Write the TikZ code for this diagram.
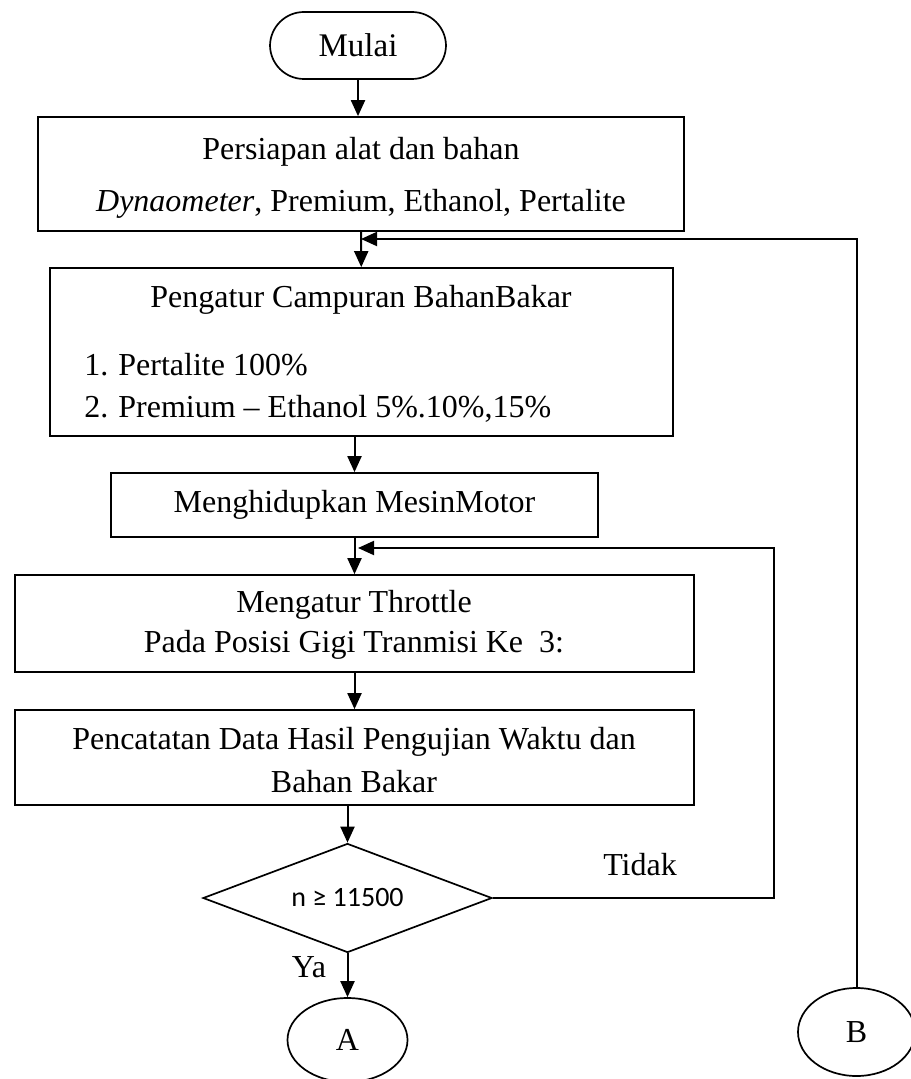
\documentclass[tikz,border=0pt]{standalone}
\usepackage{fontspec}
\setmainfont{Liberation Serif}
\newfontfamily\calib{Carlito}
\usetikzlibrary{arrows.meta,shapes.geometric}
\begin{document}
\begin{tikzpicture}[x=0.5pt,y=-0.5pt,
  every node/.style={font=\fontsize{16}{20}\selectfont},
  txt/.style={inner sep=0pt,text height=11pt,text depth=3.5pt},
  box/.style={draw,line width=0.85pt,inner sep=0pt},
  arr/.style={line width=1pt,-{Triangle[length=8pt,width=7pt]}},
  ln/.style={line width=1pt}]
\useasboundingbox (0,0) rectangle (910,1079);
% nodes
\node[box,rounded corners=17pt,minimum width=88pt,minimum height=33.5pt,font=\fontsize{16.5}{20}\selectfont] (mulai) at (358,45.5) {Mulai};
\node[box,minimum width=323pt,minimum height=57pt] (b1) at (361,174) {};
\node[txt] (b1a) at (361,152) {Persiapan alat dan bahan};
\node[txt] (b1b) at (361,204) {\textit{Dynaometer}, Premium, Ethanol, Pertalite};
\node[box,minimum width=311.5pt,minimum height=84pt] (b2) at (361.5,352) {};
\node[txt] (b2a) at (361,300) {Pengatur Campuran BahanBakar};
\node[txt,anchor=west] (b2b) at (84,368) {\makebox[17pt][l]{1.}Pertalite 100\%};
\node[txt,anchor=west] (b2c) at (84,410) {\makebox[17pt][l]{2.}Premium -- Ethanol 5\%.10\%,15\%};
\node[box,minimum width=243.5pt,minimum height=32pt] (b3) at (354.5,505) {Menghidupkan MesinMotor};
\node[box,minimum width=339.5pt,minimum height=48.5pt] (b4) at (354.5,623.5) {};
\node[txt] (b4a) at (354,605) {Mengatur Throttle};
\node[txt] (b4b) at (354,645) {Pada Posisi Gigi Tranmisi Ke\ \ 3:};
\node[box,minimum width=339.5pt,minimum height=47.5pt] (b5) at (354.5,757.5) {};
\node[txt] (b5a) at (354,742) {Pencatatan Data Hasil Pengujian Waktu dan};
\node[txt] (b5b) at (354,785) {Bahan Bakar};
\node[box,diamond,aspect=2.65,minimum width=144.5pt,minimum height=54.5pt,font=\calib\fontsize{14}{16}\selectfont] (dia) at (347.5,898) {n ≥ 11500};
\node[box,ellipse,minimum width=60pt,minimum height=42pt] (A) at (347.5,1040) {A};
\node[box,ellipse,minimum width=58.5pt,minimum height=44pt] (B) at (856.5,1032) {B};
\node[txt] (tidak) at (640,868) {Tidak};
\node[txt] (ya) at (309,970) {Ya};
% junctions
\coordinate (jB) at (361,239);
\coordinate (jT) at (358,548);
% connectors
\draw[arr] (mulai.south) -- (mulai.south |- b1.north);
\draw[arr] (b1) -- (b2);
\draw[arr] (b3.north |- b2.south) -- (b3.north);
\draw[arr] (b3.south) -- (b3.south |- b4.north);
\draw[arr] (b4) -- (b5);
\draw[arr] (b5.south -| dia.north) -- (dia.north);
\draw[arr] (dia.south) -- (A.north);
\draw[arr] (B.north) |- (jB);
\draw[arr] (dia.east) -- ++(281,0) |- (jT);
\end{tikzpicture}
\end{document}
